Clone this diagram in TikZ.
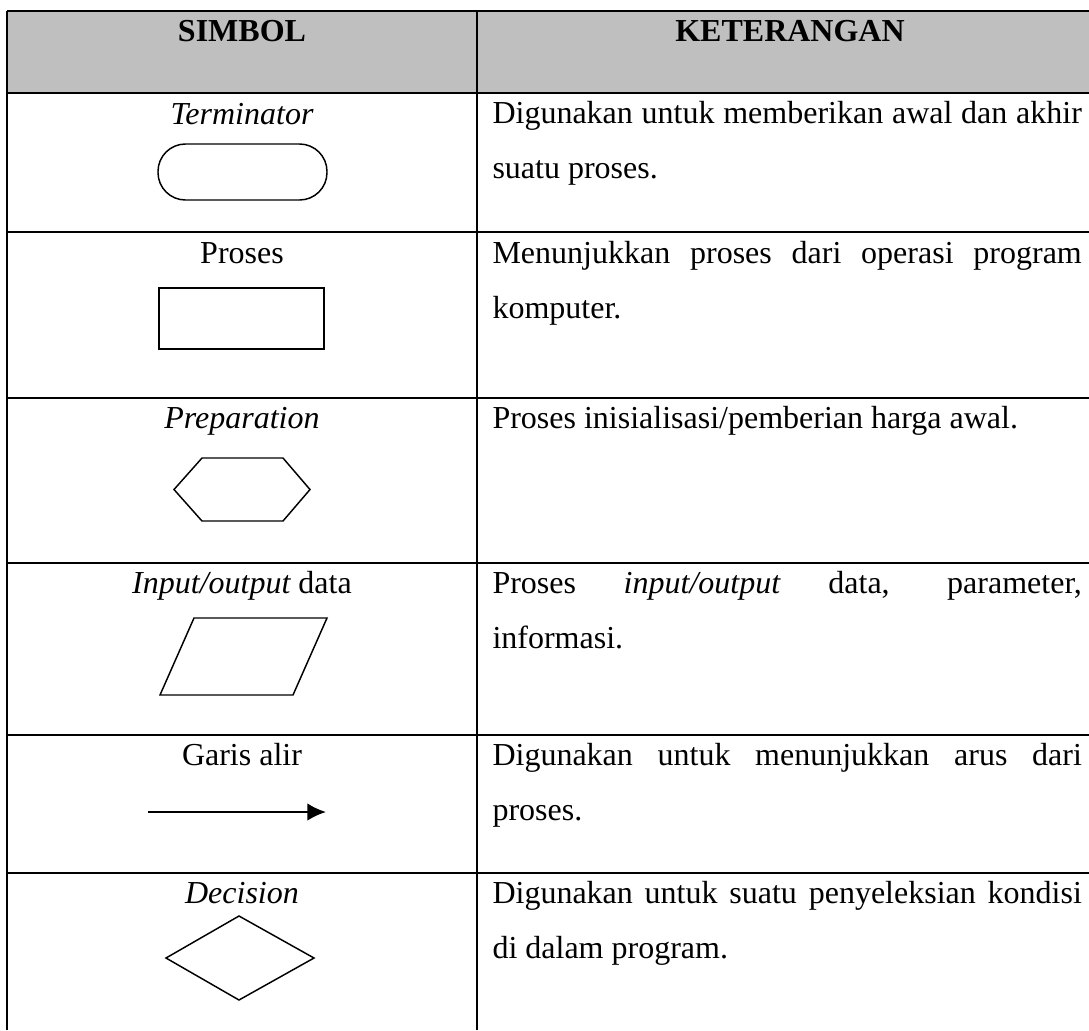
\documentclass[tikz,border=0pt]{standalone}
\usepackage{fontspec}
\setmainfont{Liberation Serif}
\usetikzlibrary{positioning,arrows.meta}
\hbadness=10000

\begin{document}
\begin{tikzpicture}[x=0.375pt, y=-0.375pt]
        \tikzstyle{every node}=[inner sep=0pt, font=\fontsize{12pt}{20.9pt}\selectfont]
        \tikzstyle{head}=[anchor=base, font=\fontsize{12pt}{20.9pt}\selectfont\bfseries]
        \tikzstyle{sym}=[anchor=base]
        \tikzstyle{desc}=[anchor=base west, text width=221pt, align=justify]
        \tikzstyle{rule}=[line width=0.8pt]
        \tikzstyle{outline}=[line width=0.55pt]

        \useasboundingbox (0,0) rectangle (1089,1030);

        % header
        \fill[gray!50] (7,11) rectangle (1089,93);
        \node[head] (simbol) at (242,41) {SIMBOL};
        \node[head] (ket)    at (790,41) {KETERANGAN};

        % grid
        \foreach \y in {11,93,232,398,563,735,873}
            \draw[rule] (7,\y) -- (1089,\y);
        \draw[rule] (7,11) -- (7,1030);
        \draw[rule] (477,11) -- (477,1030);

        % symbol column
        \node[sym] (term)  at (242,124) {\itshape Terminator};
        \draw[outline, rounded corners=10.3pt] (158,144) rectangle (327,200);

        \node[sym] (proses) at (242,263) {Proses};
        \draw[outline] (159,288) rectangle (324,349);

        \node[sym] (prep) at (242,428) {\itshape Preparation};
        \draw[outline] (174,489.5) -- (202,458) -- (283,458) -- (310,489.5)
            -- (283,521) -- (202,521) -- cycle;

        \node[sym] (io) at (242,593) {{\itshape Input/output} data};
        \draw[outline] (194,618) -- (327,618) -- (293,695) -- (160,695) -- cycle;

        \node[sym] (alir) at (242,765) {Garis alir};
        \coordinate (alirA) at (148,812);
        \coordinate (alirB) at (326,812);
        \draw[line width=0.8pt, -{Latex[length=7pt, width=6.6pt]}] (alirA) -- (alirB);

        \node[sym] (dec) at (242,903) {\itshape Decision};
        \draw[outline] (239,916) -- (314,958) -- (239,1000) -- (166,958) -- cycle;

        % description column
        \node[desc] (kTerm) at (492,123)
            {Digunakan untuk memberikan awal dan akhir\linebreak suatu proses.};
        \node[desc] (kProses) at (492,263)
            {Menunjukkan proses dari operasi program\linebreak komputer.};
        \node[desc] (kPrep) at (492,428)
            {Proses inisialisasi/pemberian harga awal.};
        \node[desc] (kIO) at (492,593)
            {Proses \textit{input/output} data, parameter,\linebreak informasi.};
        \node[desc] (kAlir) at (492,765)
            {Digunakan untuk menunjukkan arus dari\linebreak proses.};
        \node[desc] (kDec) at (492,903)
            {Digunakan untuk suatu penyeleksian kondisi\linebreak di dalam program.};

\end{tikzpicture}
\end{document}
